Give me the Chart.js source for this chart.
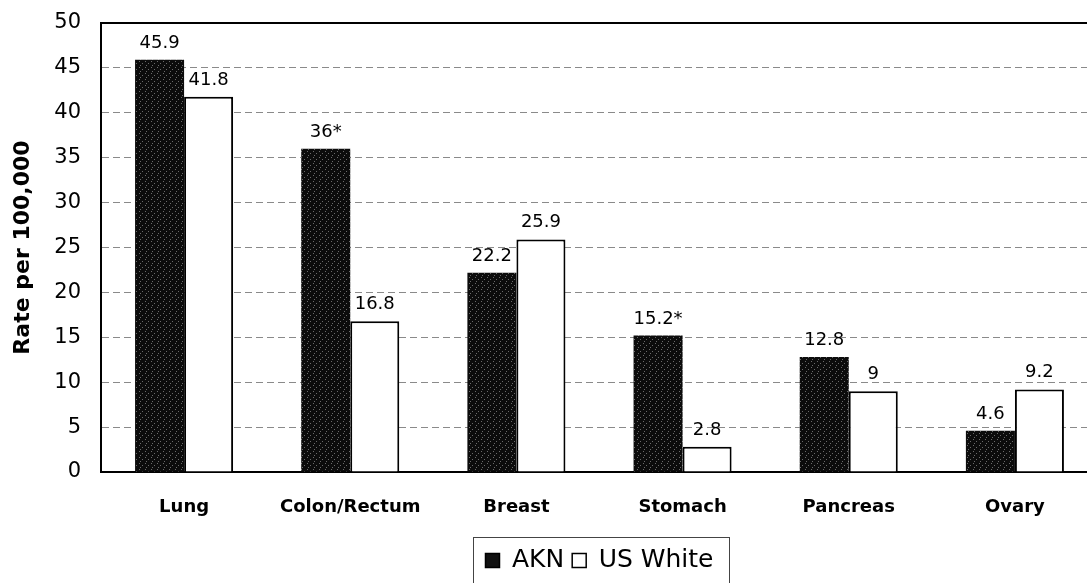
<!DOCTYPE html>
<html lang="en">
<head>
    <meta charset="UTF-8">
    <title>Cancer rates: AKN vs US White</title>
    <script src="https://cdn.jsdelivr.net/npm/chart.js@4.4.0/dist/chart.umd.min.js"></script>
    <style>
        html, body { margin: 0; padding: 0; background: #fff; overflow: hidden; }
        /* plot area runs a little past the right edge, as in the original scan */
        #wrap { width: 1098px; height: 583px; position: relative; }
    </style>
</head>
<body>
    <div id="wrap"><canvas id="rateChart"></canvas></div>
    <script>
        const categories = ['Lung', 'Colon/Rectum', 'Breast', 'Stomach', 'Pancreas', 'Ovary'];
        const aknValues = [45.9, 36, 22.2, 15.2, 12.8, 4.6];
        const usWhiteValues = [41.8, 16.8, 25.9, 2.8, 9, 9.2];
        const aknLabels = ['45.9', '36*', '22.2', '15.2*', '12.8', '4.6'];
        const usWhiteLabels = ['41.8', '16.8', '25.9', '2.8', '9', '9.2'];
        const yTicks = [0, 5, 10, 15, 20, 25, 30, 35, 40, 45, 50];

        const FONT = '"DejaVu Sans", "Liberation Sans", Arial, sans-serif';

        // speckled dark fill like the scanned original
        function makeSpeckle() {
            const c = document.createElement('canvas');
            c.width = 6; c.height = 6;
            const g = c.getContext('2d');
            g.fillStyle = '#0c0c0c';
            g.fillRect(0, 0, 6, 6);
            g.fillStyle = '#6a6a6a';
            g.fillRect(1, 1, 1, 1);
            g.fillRect(4, 3, 1, 1);
            g.fillRect(2, 5, 1, 1);
            return g.createPattern(c, 'repeat');
        }

        const barLabels = {
            id: 'barLabels',
            afterDatasetsDraw(chart) {
                const ctx = chart.ctx;
                const texts = [aknLabels, usWhiteLabels];
                ctx.save();
                ctx.font = '18px ' + FONT;
                ctx.fillStyle = '#000';
                ctx.textAlign = 'center';
                ctx.textBaseline = 'alphabetic';
                chart.data.datasets.forEach((ds, i) => {
                    chart.getDatasetMeta(i).data.forEach((bar, j) => {
                        ctx.fillText(texts[i][j], bar.x, bar.y - 12);
                    });
                });
                ctx.restore();
            }
        };

        // legend centred under the plot area rather than the whole canvas
        const centreLegend = {
            id: 'centreLegend',
            afterUpdate(chart) {
                const lg = chart.legend;
                const a = chart.chartArea;
                const mid = (a.left + a.right) / 2;
                const shift = 2 * mid - lg.right - lg.left;
                lg.left += shift;
                // moving the left edge only moves the centre by half
                lg.legendHitBoxes.forEach(b => { b.left += shift / 2; });
            }
        };

        const frame = {
            id: 'frame',
            afterDraw(chart) {
                const ctx = chart.ctx;
                const a = chart.chartArea;
                ctx.save();
                ctx.strokeStyle = '#000';
                ctx.lineWidth = 2;
                ctx.beginPath();
                ctx.moveTo(a.left, a.top);
                ctx.lineTo(chart.width, a.top);
                ctx.stroke();
                // box round the legend
                const lg = chart.legend;
                if (lg && lg.legendHitBoxes.length) {
                    const boxes = lg.legendHitBoxes;
                    const x0 = boxes[0].left - 12;
                    const last = boxes[boxes.length - 1];
                    const x1 = last.left + last.width + 16;
                    const y0 = lg.top - 3;
                    ctx.lineWidth = 1;
                    ctx.strokeStyle = '#444';
                    ctx.strokeRect(Math.round(x0) + 0.5, Math.round(y0) + 0.5, Math.round(x1 - x0), chart.height - y0 + 5);
                }
                ctx.restore();
            }
        };

        const ctx = document.getElementById('rateChart').getContext('2d');
        new Chart(ctx, {
            type: 'bar',
            data: {
                labels: categories,
                datasets: [{
                    label: 'AKN',
                    data: aknValues,
                    backgroundColor: makeSpeckle(),
                    borderColor: '#000',
                    borderWidth: 0
                }, {
                    label: 'US White',
                    data: usWhiteValues,
                    backgroundColor: '#fff',
                    borderColor: '#000',
                    borderWidth: 2
                }]
            },
            options: {
                responsive: true,
                maintainAspectRatio: false,
                animation: false,
                datasets: {
                    bar: { categoryPercentage: 0.59, barPercentage: 1.0 }
                },
                layout: { padding: { top: 23, right: 0, left: 10, bottom: 0 } },
                plugins: {
                    tooltip: { enabled: false },
                    legend: {
                        position: 'bottom',
                        labels: {
                            color: '#000',
                            font: { family: FONT, size: 25 },
                            boxWidth: 14,
                            boxHeight: 14,
                            padding: 8,
                            generateLabels(chart) {
                                return chart.data.datasets.map((ds, i) => ({
                                    text: ds.label,
                                    fillStyle: i === 0 ? '#111' : '#fff',
                                    strokeStyle: '#000',
                                    lineWidth: 1.5,
                                    datasetIndex: i
                                }));
                            }
                        }
                    }
                },
                scales: {
                    x: {
                        grid: { display: false },
                        border: { color: '#000', width: 2 },
                        ticks: {
                            color: '#000',
                            padding: 17,
                            font: { family: FONT, size: 18, weight: 'bold' }
                        },
                        afterFit(scale) { scale.height = 68; }
                    },
                    y: {
                        min: 0,
                        max: 50,
                        afterBuildTicks(scale) { scale.ticks = yTicks.map(v => ({ value: v })); },
                        grid: {
                            color: '#8a8a8a',
                            lineWidth: 1,
                            tickLength: 0
                        },
                        border: { color: '#000', width: 2, dash: [7, 4] },
                        ticks: {
                            color: '#000',
                            padding: 20,
                            font: { family: FONT, size: 21 }
                        },
                        title: {
                            display: true,
                            text: 'Rate per 100,000',
                            color: '#000',
                            padding: { top: 0, bottom: 4 },
                            font: { family: FONT, size: 22, weight: 'bold' }
                        },
                        afterFit(scale) {
                            scale.width = 91;
                            scale.paddingTop = 0;
                            scale.paddingBottom = 0;
                        }
                    }
                }
            },
            plugins: [barLabels, centreLegend, frame]
        });
    </script>
</body>
</html>
